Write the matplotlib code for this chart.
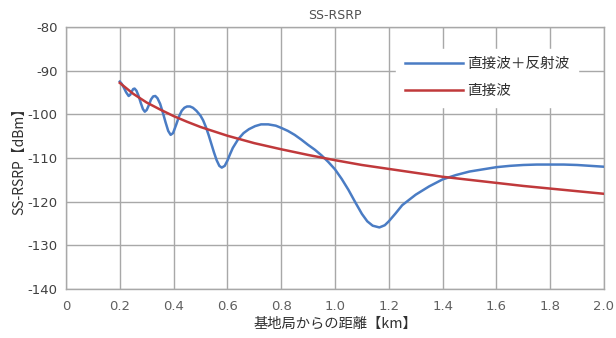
import matplotlib
matplotlib.use("Agg")
import matplotlib.pyplot as plt

# Direct wave
direct_d = [0.20, 0.25, 0.30, 0.35, 0.40, 0.45, 0.50, 0.55, 0.60, 0.70, 0.80, 0.90,
            1.00, 1.10, 1.20, 1.30, 1.40, 1.50, 1.60, 1.70, 1.80, 1.90, 2.00]
direct_v = [-92.8, -95.3, -97.3, -98.9, -100.4, -101.7, -102.9, -103.9, -104.9,
            -106.6, -108.0, -109.3, -110.5, -111.6, -112.5, -113.4, -114.3,
            -115.0, -115.7, -116.4, -117.0, -117.6, -118.2]

# Direct + reflected wave
combo_d = [0.200, 0.207, 0.215, 0.224, 0.233, 0.239, 0.245, 0.250, 0.255, 0.262,
           0.270, 0.278, 0.286, 0.293, 0.300, 0.308, 0.316, 0.324, 0.332, 0.340,
           0.350, 0.360, 0.370, 0.380, 0.389, 0.398, 0.410, 0.420, 0.430, 0.440,
           0.450, 0.461, 0.472, 0.485, 0.500, 0.510, 0.520, 0.530, 0.540, 0.550,
           0.560, 0.570, 0.579, 0.590, 0.600, 0.610, 0.620, 0.640, 0.660, 0.680,
           0.703, 0.725, 0.752, 0.780, 0.800, 0.825, 0.850, 0.875, 0.900, 0.925,
           0.950, 0.975, 1.000, 1.025, 1.050, 1.075, 1.100, 1.120, 1.140, 1.165,
           1.185, 1.200, 1.225, 1.250, 1.275, 1.300, 1.350, 1.400, 1.450, 1.500,
           1.550, 1.600, 1.650, 1.700, 1.750, 1.800, 1.850, 1.900, 1.950, 2.000]
combo_v = [-92.5, -93.0, -93.9, -95.0, -95.8, -95.5, -94.7, -94.2, -94.1, -94.6,
           -95.8, -97.4, -98.8, -99.4, -99.0, -97.9, -96.6, -95.9, -95.8, -96.3,
           -97.6, -99.6, -101.8, -103.8, -104.7, -104.3, -102.3, -100.5, -99.2, -98.5,
           -98.2, -98.2, -98.5, -99.2, -100.3, -101.4, -102.9, -104.7, -106.7, -108.7,
           -110.5, -111.8, -112.2, -111.8, -110.6, -109.1, -107.7, -105.7, -104.3, -103.4,
           -102.7, -102.3, -102.3, -102.6, -103.1, -103.8, -104.7, -105.8, -107.0, -108.1,
           -109.4, -110.9, -112.6, -114.8, -117.3, -120.1, -122.8, -124.5, -125.5, -125.9,
           -125.4, -124.5, -122.7, -120.8, -119.6, -118.4, -116.5, -114.9, -113.9, -113.1,
           -112.6, -112.1, -111.8, -111.6, -111.5, -111.5, -111.5, -111.6, -111.8, -112.0]

x_ticks = [0, 0.2, 0.4, 0.6, 0.8, 1.0, 1.2, 1.4, 1.6, 1.8, 2.0]
x_labels = ["0", "0.2", "0.4", "0.6", "0.8", "1.0", "1.2", "1.4", "1.6", "1.8", "2.0"]
y_ticks = [-140, -130, -120, -110, -100, -90, -80]

cjk = ["Noto Sans CJK JP", "DejaVu Sans"]
plt.rcParams["font.family"] = cjk

fig = plt.figure(figsize=(6.16, 3.38), dpi=100)
ax = fig.add_axes([66/616, 1 - 289/338, (604 - 66)/616, (289 - 27)/338])

ax.plot(combo_d, combo_v, color="#4a7cc4", lw=1.8, label="直接波＋反射波", zorder=3)
ax.plot(direct_d, direct_v, color="#c0393b", lw=1.8, label="直接波", zorder=3)

ax.set_xlim(0, 2.0)
ax.set_ylim(-140, -80)
ax.set_xticks(x_ticks)
ax.set_xticklabels(x_labels, fontfamily="DejaVu Sans", fontsize=9.5, color="#606060")
ax.set_yticks(y_ticks)
ax.set_yticklabels([str(v) for v in y_ticks], fontfamily="DejaVu Sans", fontsize=9.5, color="#404040")
ax.tick_params(axis="both", length=0)
ax.tick_params(axis="x", pad=8)
ax.tick_params(axis="y", pad=6)
ax.grid(True, color="#a8a8a8", lw=1.0)
ax.set_axisbelow(True)
for s in ax.spines.values():
    s.set_color("#a8a8a8")
    s.set_linewidth(1.0)

ax.set_title("SS-RSRP", fontsize=9, color="#505050", pad=6, fontfamily="DejaVu Sans")
ax.set_xlabel("基地局からの距離【km】", fontsize=10.3, color="#303030", labelpad=2.5)
ax.set_ylabel("SS-RSRP【dBm】", fontsize=10, color="#303030", labelpad=1)

leg = ax.legend(loc="upper left", bbox_to_anchor=(0.600, 0.945), frameon=True,
                fontsize=10.5, handlelength=4.0, labelspacing=0.85, borderpad=0.6,
                handletextpad=0.25, fancybox=False)
leg.get_frame().set_facecolor("white")
leg.get_frame().set_edgecolor("white")
leg.get_frame().set_alpha(1)
for t in leg.get_texts():
    t.set_color("#303030")

fig.savefig("out.png", dpi=100)
